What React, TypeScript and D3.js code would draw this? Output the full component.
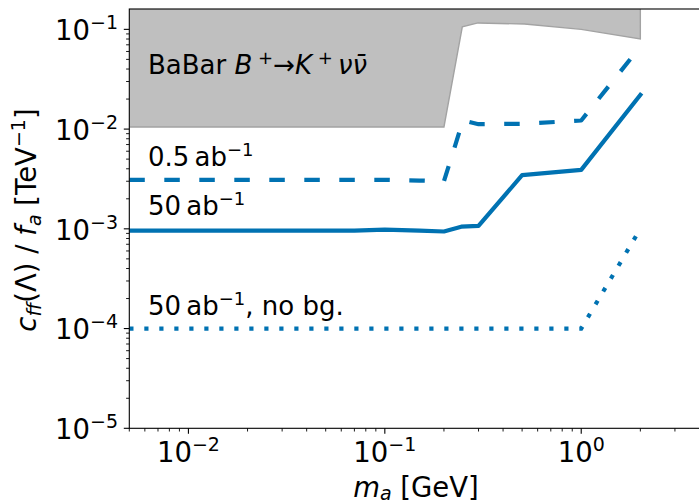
import React from "react";
import * as d3 from "d3";

// Sensitivity reach on the axion-fermion coupling vs. axion mass
const massDashed = [0.005, 0.02, 0.05, 0.1, 0.15, 0.2, 0.25, 0.3, 0.5, 1.0, 2.0];
const coupDashed = [3.1e-3, 3.1e-3, 3.1e-3, 3.1e-3, 3.05e-3, 3.0e-3, 0.0122, 0.0112, 0.0113, 0.0122, 0.067];

const massSolid = [0.005, 0.01, 0.02, 0.05, 0.07, 0.1, 0.15, 0.2, 0.245, 0.3, 0.5, 1.0, 2.0];
const coupSolid = [9.6e-4, 9.6e-4, 9.6e-4, 9.6e-4, 9.6e-4, 9.8e-4, 9.6e-4, 9.4e-4, 1.05e-3, 1.07e-3, 3.45e-3, 3.9e-3, 0.022];

const massDotted = [0.005, 1.0, 2.0];
const coupDotted = [1e-4, 1e-4, 1e-3];

// BaBar B+ -> K+ nu nubar exclusion boundary
const massBabar = [0.005, 0.2, 0.248, 0.298, 0.514, 1.0, 2.0];
const coupBabar = [0.0105, 0.0105, 0.106, 0.116, 0.113, 0.1, 0.08];

const xMajorTicks = [0.01, 0.1, 1];
const xMajorExp = ["−2", "−1", "0"];
const yMajorTicks = [1e-5, 1e-4, 1e-3, 1e-2, 1e-1];
const yMajorExp = ["−5", "−4", "−3", "−2", "−1"];

const W = 699;
const H = 503;
const left = 129.3;
const top = 9;
const bottom = 428.3;
const right = left + 3 * 196.4;

const BLUE = "#0072b2";
const FONT = "DejaVu Sans, sans-serif";

export default function App() {
  const x = d3.scaleLog().domain([0.005, 5]).range([left, right]);
  const y = d3.scaleLog().domain([1e-5, 0.16]).range([bottom, top]);

  const line = d3
    .line<[number, number]>()
    .x((d) => x(d[0]))
    .y((d) => y(d[1]));

  const zip = (a: number[], b: number[]) => a.map((v, i) => [v, b[i]] as [number, number]);

  const babarPts = zip(massBabar, coupBabar);
  const babarFill =
    line([[0.005, 1], ...babarPts, [2.0, 1]] as [number, number][]) + "Z";
  const babarEdge = line([...babarPts, [2.0, 1]] as [number, number][]);

  // minor ticks
  const xMinor: number[] = [];
  for (const dec of [0.001, 0.01, 0.1, 1]) {
    for (let k = 2; k <= 9; k++) {
      const v = dec * k;
      if (v >= 0.005 && v <= 5) xMinor.push(v);
    }
  }
  const yMinor: number[] = [];
  for (const dec of [1e-5, 1e-4, 1e-3, 1e-2, 1e-1]) {
    for (let k = 2; k <= 9; k++) {
      const v = dec * k;
      if (v >= 1e-5 && v <= 0.16) yMinor.push(v);
    }
  }

  return (
    <svg
      width={W}
      height={H}
      style={{ position: "absolute", left: 0, top: 0, background: "#fff" }}
      fontFamily={FONT}
    >
      <defs>
        <clipPath id="plotArea">
          <rect x={left} y={top} width={right - left} height={bottom - top} />
        </clipPath>
      </defs>

      <g clipPath="url(#plotArea)">
        <path d={babarFill} fill="#bfbfbf" stroke="none" />
        <path d={babarEdge!} fill="none" stroke="#a3a3a3" strokeWidth={1.4} />
        <path
          d={line(zip(massDashed, coupDashed))!}
          fill="none"
          stroke={BLUE}
          strokeWidth={4.2}
          strokeDasharray="15.5 19.5"
          strokeLinejoin="round"
        />
        <path
          d={line(zip(massSolid, coupSolid))!}
          fill="none"
          stroke={BLUE}
          strokeWidth={4.2}
          strokeLinejoin="round"
          strokeLinecap="square"
        />
        <path
          d={line(zip(massDotted, coupDotted))!}
          fill="none"
          stroke={BLUE}
          strokeWidth={4.2}
          strokeDasharray="4.2 10.8"
        />
      </g>

      {/* frame */}
      <rect x={left} y={top} width={right - left} height={bottom - top} fill="none" stroke="#000" strokeWidth={1.1} />

      {/* x ticks */}
      {xMajorTicks.map((t) => (
        <line key={"xM" + t} x1={x(t)} x2={x(t)} y1={bottom} y2={bottom + 5.5} stroke="#000" strokeWidth={1.1} />
      ))}
      {xMinor.map((t) => (
        <line key={"xm" + t} x1={x(t)} x2={x(t)} y1={bottom} y2={bottom + 3.2} stroke="#000" strokeWidth={0.9} />
      ))}
      {xMajorTicks.map((t, i) => (
        <text key={"xl" + t} x={x(t)} y={461.7} textAnchor="middle" fontSize={27.5} fill="#000">
          10
          <tspan fontSize={19} dy={-11}>
            {xMajorExp[i]}
          </tspan>
        </text>
      ))}

      {/* y ticks */}
      {yMajorTicks.map((t) => (
        <line key={"yM" + t} x1={left - 5.5} x2={left} y1={y(t)} y2={y(t)} stroke="#000" strokeWidth={1.1} />
      ))}
      {yMinor.map((t) => (
        <line key={"ym" + t} x1={left - 3.2} x2={left} y1={y(t)} y2={y(t)} stroke="#000" strokeWidth={0.9} />
      ))}
      {yMajorTicks.map((t, i) => (
        <text key={"yl" + t} x={118} y={y(t) + 10.7} textAnchor="end" fontSize={27.5} fill="#000">
          10
          <tspan fontSize={19} dy={-11}>
            {yMajorExp[i]}
          </tspan>
        </text>
      ))}

      {/* axis titles */}
      <text x={416} y={496.5} textAnchor="middle" fontSize={27.5} fill="#000">
        <tspan fontStyle="italic">m</tspan>
        <tspan fontStyle="italic" fontSize={19} dy={3.5}>a</tspan>
        <tspan dy={-3.5}> [GeV]</tspan>
      </text>
      <text transform="translate(36,220) rotate(-90)" textAnchor="middle" fontSize={27.5} fill="#000">
        <tspan fontStyle="italic">c</tspan>
        <tspan fontStyle="italic" fontSize={19} dy={5}>ff</tspan>
        <tspan dy={-5}>(Λ) / </tspan>
        <tspan fontStyle="italic">f</tspan>
        <tspan fontStyle="italic" fontSize={19} dy={5}>a</tspan>
        <tspan dy={-5}> [TeV</tspan>
        <tspan fontSize={19} dy={-11}>−1</tspan>
        <tspan dy={11}>]</tspan>
      </text>

      {/* annotations */}
      <text x={148} y={74} fontSize={26} fill="#000">
        BaBar{" "}
        <tspan fontStyle="italic">B</tspan>
        <tspan fontSize={18} dy={-10}>{" +"}</tspan>
        <tspan dy={10}>→</tspan>
        <tspan fontStyle="italic">K</tspan>
        <tspan fontSize={18} dy={-10}>{" +"}</tspan>
        <tspan dy={10} fontStyle="italic">{"\u2009νν̄"}</tspan>
      </text>
      <text x={148} y={166} fontSize={26} fill="#000">
        0.5{"\u2009"}ab
        <tspan fontSize={18} dy={-10}>−1</tspan>
      </text>
      <text x={148} y={215} fontSize={26} fill="#000">
        50{"\u2009"}ab
        <tspan fontSize={18} dy={-10}>−1</tspan>
      </text>
      <text x={148} y={315} fontSize={26} fill="#000">
        50{"\u2009"}ab
        <tspan fontSize={18} dy={-10}>−1</tspan>
        <tspan dy={10}>, no bg.</tspan>
      </text>
    </svg>
  );
}
